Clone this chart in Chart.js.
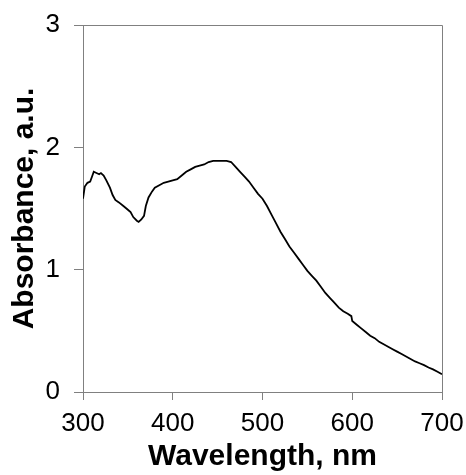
<!DOCTYPE html>
<html>
<head>
<meta charset="utf-8">
<script src="https://cdn.jsdelivr.net/npm/chart.js@4"></script>
<style>
  html, body { margin: 0; padding: 0; background: #fff; }
  #wrap { width: 466px; height: 475px; }
</style>
</head>
<body>
<div id="wrap"><canvas id="spectrum" width="466" height="475"></canvas></div>
<script>
// Absorption spectrum
const wavelengths = [300, 302, 305, 308, 310, 312, 315, 318, 320, 323, 326, 330, 333, 336, 340, 345, 350, 353, 356, 360,
  362, 365, 368, 370, 373, 377, 380, 385, 390, 395, 400, 405, 410, 415, 420, 425, 430, 435, 440, 445,
  450, 455, 460, 465, 470, 475, 480, 485, 490, 495, 500, 505, 510, 515, 520, 525, 530, 535, 540, 545,
  550, 555, 560, 565, 570, 575, 580, 585, 590, 595, 599, 600, 605, 610, 615, 620, 625, 630, 635, 640,
  645, 650, 655, 660, 665, 670, 675, 680, 685, 690, 695, 700];
const absorbance = [1.58, 1.68, 1.71, 1.72, 1.76, 1.80, 1.79, 1.78, 1.79, 1.77, 1.73, 1.67, 1.61, 1.57, 1.55, 1.52, 1.49, 1.47, 1.43, 1.40,
  1.39, 1.41, 1.44, 1.52, 1.59, 1.64, 1.67, 1.69, 1.71, 1.72, 1.73, 1.74, 1.77, 1.80, 1.82, 1.84, 1.85, 1.86, 1.88, 1.89,
  1.89, 1.89, 1.89, 1.88, 1.84, 1.80, 1.76, 1.72, 1.67, 1.62, 1.58, 1.52, 1.45, 1.38, 1.31, 1.25, 1.19, 1.14, 1.09, 1.04,
  0.99, 0.95, 0.91, 0.86, 0.81, 0.77, 0.73, 0.69, 0.66, 0.64, 0.62, 0.58, 0.55, 0.52, 0.49, 0.46, 0.44, 0.41, 0.39, 0.37,
  0.35, 0.33, 0.31, 0.29, 0.27, 0.25, 0.235, 0.22, 0.20, 0.185, 0.165, 0.145];
const xTicks = [300, 400, 500, 600, 700];
const yTicks = [0, 1, 2, 3];

const axisGray = "#808080";

// draws the top and right edges of the plot box
const boxPlugin = {
  id: "box",
  beforeDatasetsDraw(chart) {
    const a = chart.chartArea;
    const ctx = chart.ctx;
    ctx.save();
    ctx.strokeStyle = axisGray;
    ctx.lineWidth = 1;
    ctx.beginPath();
    ctx.moveTo(a.left, a.top + 0.5);
    ctx.lineTo(a.right + 0.5, a.top + 0.5);
    ctx.lineTo(a.right + 0.5, a.bottom);
    ctx.stroke();
    ctx.restore();
  }
};

const ctx = document.getElementById("spectrum").getContext("2d");
new Chart(ctx, {
  type: "line",
  data: {
    datasets: [{
      data: wavelengths.map((w, i) => ({ x: w, y: absorbance[i] })),
      borderColor: "#000",
      borderWidth: 1.8,
      pointRadius: 0,
      tension: 0,
      fill: false
    }]
  },
  options: {
    responsive: false,
    animation: false,
    layout: { padding: { top: 25, right: 24, left: 0, bottom: 0 } },
    plugins: { legend: { display: false }, tooltip: { enabled: false } },
    scales: {
      x: {
        type: "linear",
        min: xTicks[0],
        max: xTicks[xTicks.length - 1],
        afterBuildTicks: s => { s.ticks = xTicks.map(v => ({ value: v })); },
        afterFit: s => { s.height = 83; s.paddingLeft = 0; s.paddingRight = 0; },
        grid: { drawOnChartArea: false, drawTicks: true, tickLength: 8, color: axisGray },
        border: { color: axisGray, width: 1 },
        ticks: { color: "#000", padding: 8, maxRotation: 0, font: { family: "Arial, 'Liberation Sans'", size: 26 } },
        title: {
          display: true, text: "Wavelength, nm", color: "#000",
          padding: { top: 0, bottom: 0 },
          font: { family: "Arial, 'Liberation Sans'", size: 30, weight: "bold" }
        }
      },
      y: {
        min: yTicks[0],
        max: yTicks[yTicks.length - 1],
        afterBuildTicks: s => { s.ticks = yTicks.map(v => ({ value: v })); },
        afterFit: s => { s.width = 83; s.paddingTop = 0; s.paddingBottom = 0; },
        grid: { drawOnChartArea: false, drawTicks: true, tickLength: 9, color: axisGray },
        border: { color: axisGray, width: 1 },
        ticks: { color: "#000", padding: 14, font: { family: "Arial, 'Liberation Sans'", size: 26 } },
        title: {
          display: true, text: "Absorbance, a.u.", color: "#000",
          padding: { top: 7, bottom: 0 },
          font: { family: "Arial, 'Liberation Sans'", size: 30, weight: "bold" }
        }
      }
    }
  },
  plugins: [boxPlugin]
});
</script>
</body>
</html>
